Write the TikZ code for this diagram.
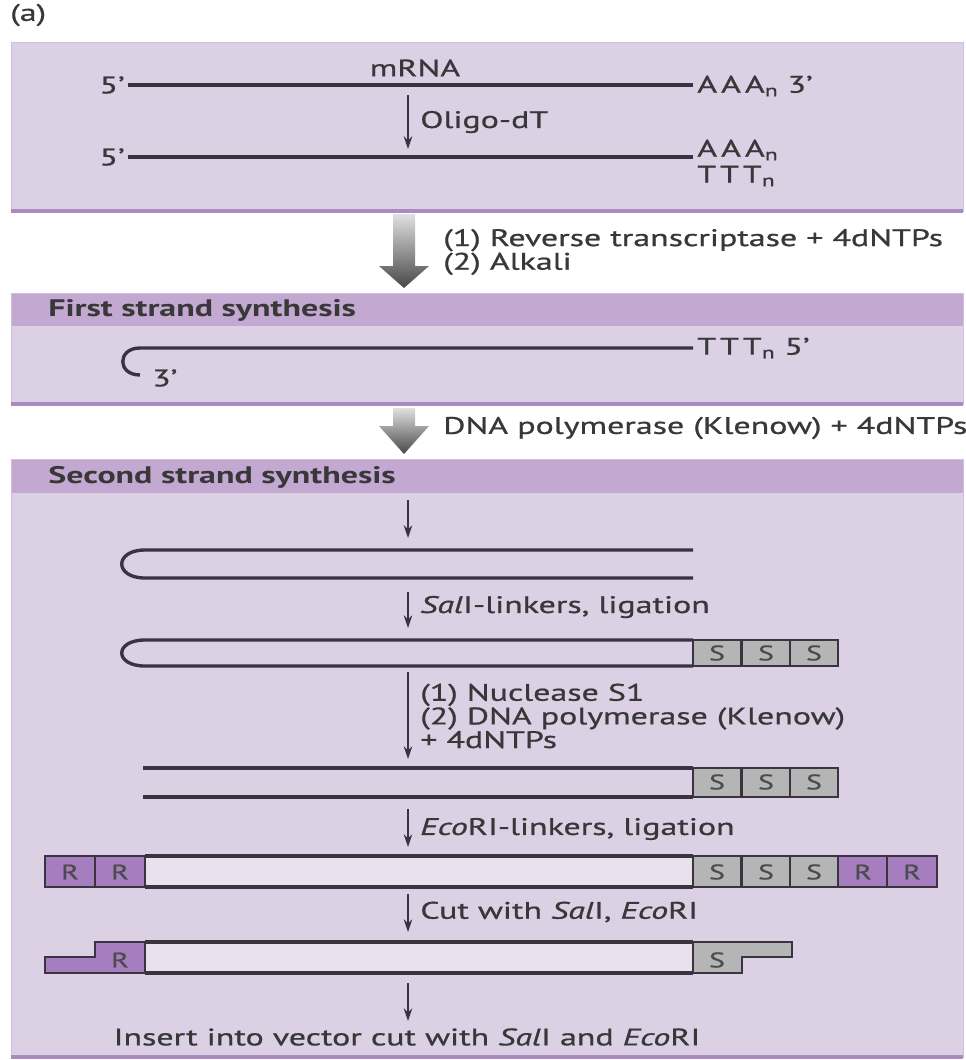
\documentclass[tikz,border=0pt]{standalone}
\usepackage{fontspec}
\setmainfont{PT Sans}[FakeStretch=1.42, UprightFeatures={FakeBold=0.8}, ItalicFeatures={FakeBold=0.8}]
\usetikzlibrary{arrows.meta}
\definecolor{panel}{HTML}{DCD0E5}
\definecolor{header}{HTML}{C3A9D2}
\definecolor{rim}{HTML}{A98BBF}
\definecolor{strand}{HTML}{3A3340}
\definecolor{rbox}{HTML}{A67EC0}
\definecolor{sbox}{HTML}{B5B5B5}
\definecolor{inner}{HTML}{E9E2EE}
\definecolor{ink}{HTML}{383838}
\tikzset{
  dna/.style={draw=strand, line width=2.4pt, line cap=butt},
  steparrow/.style={draw=strand, line width=1.2pt, -{Stealth[length=9pt,width=6pt]}},
  lbl/.style={anchor=west, text=ink, inner sep=0pt},
  multi/.style={anchor=west, text=ink, inner sep=0pt, align=left},
  hdr/.style={anchor=west, text=ink, inner sep=0pt, font=\fontsize{17}{22}\selectfont\bfseries},
  linker/.style={draw=strand, line width=1.4pt},
  boxtxt/.style={text=ink!90, inner sep=0pt, font=\fontsize{15}{18}\selectfont},
  bigarrow/.style={top color=black!12, bottom color=black!72, draw=none},
}
\newcommand{\pr}{\textquoteright}
\begin{document}
\begin{tikzpicture}[x=0.025cm, y=-0.025cm, font=\fontsize{17}{16.8}\selectfont]
\useasboundingbox (0,0) rectangle (966,1060);
\fill[white] (0,0) rectangle (966,1060);

\node[lbl] (tag) at (10,15) {(a)};

% ---------- panel 1: mRNA with oligo-dT primer ----------
\fill[panel] (11,42) rectangle (963,212);
\draw[rim!55, line width=0.6pt] (11,212) -- (11,42) -- (963,42) -- (963,212);
\draw[rim, line width=2.2pt] (11,211) -- (963,211);

\draw[dna] (128,85) -- (693,85);
\node[lbl, anchor=east] (p5a) at (125,85) {5\pr};
\node[lbl] (p3a) at (697,86) {A\,A\,A\textsubscript{n} 3\pr};
\node[text=ink, inner sep=0pt] (mrna) at (415,68) {mRNA};

\coordinate (o1) at (408,95);
\coordinate (o2) at (408,149);
\draw[steparrow] (o1) -- (o2);
\node[lbl] (oligo) at (420,122) {Oligo-dT};

\draw[dna] (128,157) -- (693,157);
\node[lbl, anchor=east] (p5b) at (125,157) {5\pr};
\node[lbl] (polyA) at (697,150) {A\,A\,A\textsubscript{n}};
\node[lbl] (polyT) at (697,176) {T\,T\,T\textsubscript{n}};

% ---------- big arrow 1 ----------
\shade[bigarrow] (393,214) -- (415,214) -- (415,266) -- (429,266) -- (404,288) -- (379,266) -- (393,266) -- cycle;
\node[multi] (rt) at (443,252) {(1) Reverse transcriptase + 4dNTPs\\(2) Alkali};

% ---------- panel 2: first strand ----------
\fill[panel] (11,293) rectangle (963,405);
\fill[header] (11,293) rectangle (963,326);
\draw[rim!55, line width=0.6pt] (11,405) -- (11,293) -- (963,293) -- (963,405);
\draw[rim, line width=2.2pt] (11,404) -- (963,404);
\node[hdr] (h1) at (48,310) {First strand synthesis};

\draw[dna] (693,348) -- (140,348) .. controls (117,348) and (117,375) .. (140,375);
\node[lbl] (p3c) at (152,378) {3\pr};
\node[lbl] (polyTc) at (697,348) {T\,T\,T\textsubscript{n} 5\pr};

% ---------- big arrow 2 ----------
\shade[bigarrow] (393,408) -- (415,408) -- (415,426) -- (429,426) -- (404,454) -- (379,426) -- (393,426) -- cycle;
\node[lbl] (kl) at (443,428) {DNA polymerase (Klenow) + 4dNTPs};

% ---------- panel 3: second strand ----------
\fill[panel] (11,459) rectangle (963,1058);
\fill[header] (11,459) rectangle (963,493);
\draw[rim!55, line width=0.6pt] (11,1058) -- (11,459) -- (963,459) -- (963,1058);
\draw[rim, line width=2.2pt] (11,1057) -- (963,1057);
\node[hdr] (h2) at (48,477) {Second strand synthesis};

\coordinate (s1) at (408,500);
\coordinate (s2) at (408,538);
\draw[steparrow] (s1) -- (s2);

% hairpin
\draw[dna] (693,550) -- (145,550) .. controls (114,550) and (114,578) .. (145,578) -- (693,578);

\coordinate (s3) at (408,592);
\coordinate (s4) at (408,628);
\draw[steparrow] (s3) -- (s4);
\node[lbl] (sall) at (420,607) {\textit{Sal}I-linkers, ligation};

% hairpin with SalI linkers
\draw[dna] (693,640) -- (145,640) .. controls (114,640) and (114,666) .. (145,666) -- (693,666);
\foreach \x in {693,742,790} {
  \draw[linker, fill=sbox] (\x,640) rectangle +(48,26);
}
\node[boxtxt] (sa) at (717,653) {S};
\node[boxtxt] (sb) at (766,653) {S};
\node[boxtxt] (sc) at (814,653) {S};

\coordinate (s5) at (408,672);
\coordinate (s6) at (408,759);
\draw[steparrow] (s5) -- (s6);
\node[multi] (nuc) at (420,716) {(1) Nuclease S1\\(2) DNA polymerase (Klenow)\\+ 4dNTPs};

% blunt duplex
\draw[dna] (143,768) -- (693,768);
\draw[dna] (143,797) -- (693,797);
\foreach \x in {693,742,790} {
  \draw[linker, fill=sbox] (\x,768) rectangle +(48,29);
}
\node[boxtxt] (sd) at (717,782) {S};
\node[boxtxt] (se) at (766,782) {S};
\node[boxtxt] (sf) at (814,782) {S};

\coordinate (s7) at (408,809);
\coordinate (s8) at (408,847);
\draw[steparrow] (s7) -- (s8);
\node[lbl] (eco) at (420,829) {\textit{Eco}RI-linkers, ligation};

% duplex with both linkers
\fill[inner] (145,856) rectangle (693,887);
\draw[dna] (145,856) -- (693,856);
\draw[dna] (145,887) -- (693,887);
\foreach \x in {45,95,838,887} {
  \draw[linker, fill=rbox] (\x,856) rectangle +(50,31);
}
\foreach \x in {693,742,790} {
  \draw[linker, fill=sbox] (\x,856) rectangle +(48,31);
}
\node[boxtxt] (ra) at (70,872) {R};
\node[boxtxt] (rb) at (120,872) {R};
\node[boxtxt] (sg) at (717,872) {S};
\node[boxtxt] (sh) at (766,872) {S};
\node[boxtxt] (si) at (814,872) {S};
\node[boxtxt] (rc) at (863,872) {R};
\node[boxtxt] (rd) at (912,872) {R};

\coordinate (s9) at (408,894);
\coordinate (s10) at (408,932);
\draw[steparrow] (s9) -- (s10);
\node[lbl] (cut) at (420,912) {Cut with \textit{Sal}I, \textit{Eco}RI};

% fragment with sticky ends
\fill[inner] (145,942) rectangle (693,973);
\draw[dna] (145,942) -- (693,942);
\draw[dna] (145,973) -- (693,973);
\draw[linker, fill=rbox] (45,957) -- (95,957) -- (95,942) -- (145,942) -- (145,973) -- (45,973) -- cycle;
\draw[linker, fill=sbox] (693,942) -- (792,942) -- (792,957) -- (742,957) -- (742,973) -- (693,973) -- cycle;
\node[boxtxt] (re) at (120,960) {R};
\node[boxtxt] (sj) at (717,960) {S};

\coordinate (s11) at (408,983);
\coordinate (s12) at (408,1021);
\draw[steparrow] (s11) -- (s12);
\node[text=ink, inner sep=0pt] (ins) at (407,1037) {Insert into vector cut with \textit{Sal}I and \textit{Eco}RI};
\end{tikzpicture}
\end{document}
